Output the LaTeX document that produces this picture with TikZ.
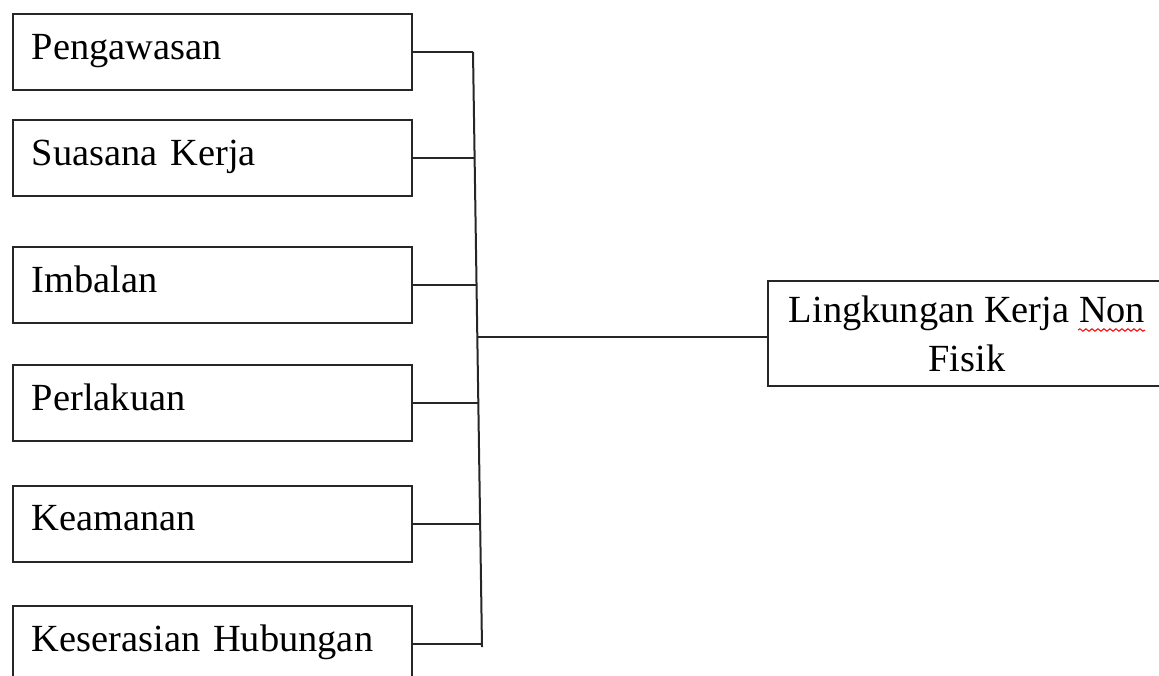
\documentclass[tikz,border=0pt]{standalone}
\usepackage{fontspec}
\setmainfont{Liberation Serif}
\usetikzlibrary{positioning,calc,decorations.pathmorphing}

\tikzset{
  faktor/.style={draw=black!85, line width=1pt, anchor=west, align=left,
    text width=180.5pt, inner xsep=9.5pt, inner ysep=0pt, minimum height=38pt,
    text height=11pt, text depth=4pt, font=\fontsize{19.2}{23}\selectfont},
  hasil/.style={draw=black!85, line width=1pt, anchor=west, align=center,
    minimum width=199pt, minimum height=52.5pt, inner sep=0pt,
    font=\fontsize{19.2}{24.5}\selectfont},
  link/.style={draw=black!85, line width=1pt}
}

\begin{document}
\begin{tikzpicture}[x=0.5pt, y=-0.5pt]
  \useasboundingbox (0,0) rectangle (1159,675);
  \clip (0,0) rectangle (1159,675);

  % left boxes
  \node[faktor] (b1) at (12,52) {Pengawasan};
  \node[faktor] (b2) at (12,158) {Suasana Kerja};
  \node[faktor] (b3) at (12,285) {Imbalan};
  \node[faktor] (b4) at (12,403) {Perlakuan};
  \node[faktor] (b5) at (12,523.5) {Keamanan};
  \node[faktor] (b6) at (12,644) {Keserasian Hubungan};

  % right box
  \node[hasil] (rbox) at (767,333.5) {Lingkungan Kerja Non\\Fisik};
  \coordinate (rin) at ([yshift=-1.75pt]rbox.west);

  % collector line
  \coordinate (vtop) at (473,52);
  \coordinate (vbot) at (482,647);
  \draw[link] (vtop) -- (vbot);
  \foreach \b in {b1,b2,b3,b4,b5,b6,rin}
    \draw[link] let \p1=(\b), \p2=(vtop), \p3=(vbot) in
      ({\x2+(\x3-\x2)*(\y1-\y2)/(\y3-\y2)},\y1) -- (\b);

  % spell check mark
  \draw[red, line width=0.5pt, decorate,
    decoration={snake, amplitude=0.6pt, segment length=3pt}] (1078,330) -- (1145,330);
\end{tikzpicture}
\end{document}
